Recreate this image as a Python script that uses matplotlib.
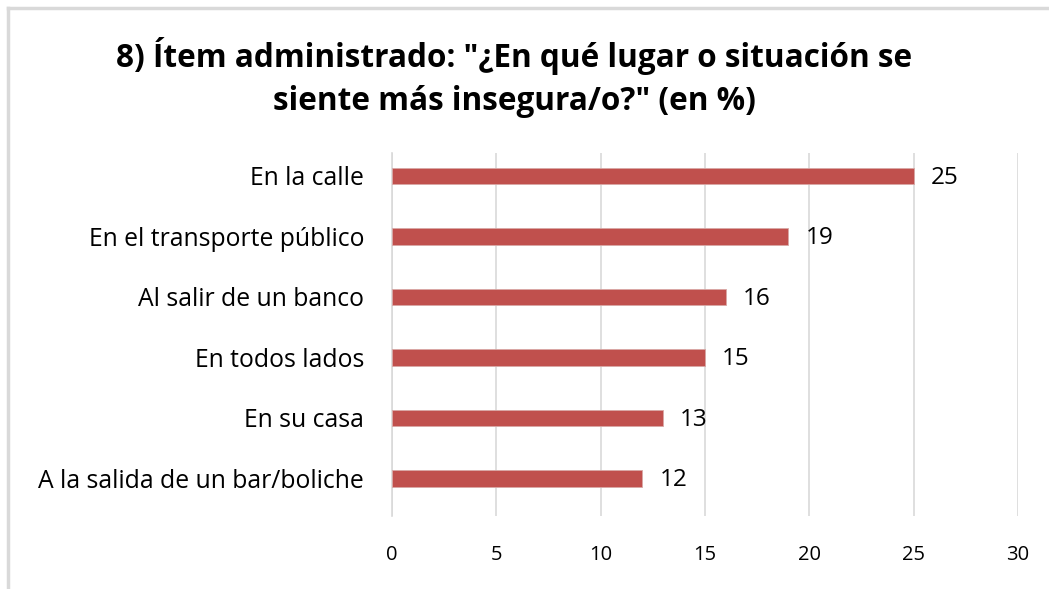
import matplotlib
matplotlib.use("Agg")
import matplotlib.pyplot as plt
from matplotlib import font_manager
import numpy as np

categories = ["En la calle", "En el transporte público", "Al salir de un banco",
              "En todos lados", "En su casa", "A la salida de un bar/boliche"]
values = [25, 19, 16, 15, 13, 12]
xticks = [0, 5, 10, 15, 20, 25, 30]
title_lines = ['8) Ítem administrado: "¿En qué lugar o situación se',
               'siente más insegura/o?" (en %)']

def pick(fams):
    for f in fams:
        try:
            font_manager.findfont(f, fallback_to_default=False)
            return f
        except Exception:
            pass
    return "DejaVu Sans"

body_font = pick(["Open Sans", "Lato", "Liberation Sans"])
title_font = pick(["Open Sans", "Liberation Sans"])

W, H = 1049, 589
fig = plt.figure(figsize=(W / 100, H / 100), dpi=100)
fig.patch.set_facecolor("white")

# outer frame (light gray) – top and left
frame_col = "#D9D9D9"
fig.add_artist(plt.Line2D([8 / W, 1.0], [1 - 8 / H, 1 - 8 / H], transform=fig.transFigure,
                          color=frame_col, lw=2.5))
fig.add_artist(plt.Line2D([8 / W, 8 / W], [0, 1 - 8 / H], transform=fig.transFigure,
                          color=frame_col, lw=2.5))

left, right = 392 / W, 1018 / W
top, bottom = 1 - 153 / H, 1 - 516 / H
ax = fig.add_axes([left, bottom, right - left, top - bottom])

y = np.arange(len(categories))
bar_col = "#C0504D"
ax.barh(y, values, height=0.265, color=bar_col, edgecolor="#D8A8A6", linewidth=0.6, zorder=3)
ax.set_ylim(len(categories) - 1 + 0.62, -0.38)
ax.set_xlim(0, 30)
ax.set_xticks(xticks)
ax.set_xticklabels([str(t) for t in xticks], fontsize=14.5, family=body_font)
ax.set_yticks(y)
ax.set_yticklabels(categories, fontsize=17.8, family=body_font)
ax.tick_params(axis="both", length=0)
ax.tick_params(axis="x", pad=21)
ax.tick_params(axis="y", pad=20)
ax.grid(axis="x", color="#D9D9D9", lw=1.2, zorder=0)
for s in ["top", "right", "bottom"]:
    ax.spines[s].set_visible(False)
ax.spines["left"].set_color("#D9D9D9")
ax.spines["left"].set_linewidth(1.2)

for yi, v in zip(y, values):
    ax.annotate(str(v), (v, yi), xytext=(17, -2), textcoords="offset pixels",
                ha="left", va="center", fontsize=17.5, family=body_font, color="black")

fig.text(514 / W, 1 - 56 / H, title_lines[0], ha="center", va="center",
         fontsize=22.7, fontweight="bold", family=title_font)
fig.text(514 / W, 1 - 101 / H, title_lines[1], ha="center", va="center",
         fontsize=22.7, fontweight="bold", family=title_font)

fig.savefig("out.png", dpi=100, facecolor="white")
